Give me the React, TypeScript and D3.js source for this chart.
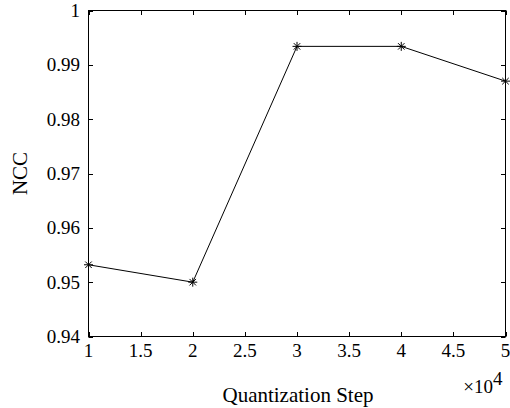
import React, { useEffect, useRef } from 'react'
import * as d3 from 'd3'

const steps = [1, 2, 3, 4, 5]
const ncc = [0.9532, 0.95, 0.9934, 0.9934, 0.9870]
const xTicks = [1, 1.5, 2, 2.5, 3, 3.5, 4, 4.5, 5]
const yTicks = [0.94, 0.95, 0.96, 0.97, 0.98, 0.99, 1]

const W = 510
const H = 408
const FONT = '"Liberation Serif", "Times New Roman", serif'

const drawChart = (node: SVGSVGElement) => {
  const left = 88.5
  const right = 505.5
  const top = 10.5
  const bottom = 336.5
  const tick = 4.5

  const x = d3.scaleLinear().domain([1, 5]).range([left, right])
  const y = d3.scaleLinear().domain([0.94, 1]).range([bottom, top])

  const svg = d3.select(node)
  svg.selectAll('*').remove()

  svg
    .append('rect')
    .attr('width', W)
    .attr('height', H)
    .attr('fill', '#fff')

  // ticks on all four sides, pointing in
  const ticks = svg.append('g').attr('stroke', '#000').attr('stroke-width', 1)
  xTicks.forEach((t) => {
    const px = Math.round(x(t)) + 0.5
    ticks.append('line').attr('x1', px).attr('x2', px).attr('y1', bottom).attr('y2', bottom - tick)
    ticks.append('line').attr('x1', px).attr('x2', px).attr('y1', top).attr('y2', top + tick)
  })
  yTicks.forEach((t) => {
    const py = Math.round(y(t)) + 0.5
    ticks.append('line').attr('x1', left).attr('x2', left + tick).attr('y1', py).attr('y2', py)
    ticks.append('line').attr('x1', right).attr('x2', right - tick).attr('y1', py).attr('y2', py)
  })

  // box
  svg
    .append('rect')
    .attr('x', left)
    .attr('y', top)
    .attr('width', right - left)
    .attr('height', bottom - top)
    .attr('fill', 'none')
    .attr('stroke', '#000')
    .attr('stroke-width', 1)

  const labels = svg
    .append('g')
    .attr('font-family', FONT)
    .attr('font-size', 19)
    .attr('fill', '#000')

  labels
    .selectAll('text.xt')
    .data(xTicks)
    .enter()
    .append('text')
    .attr('class', 'xt')
    .attr('x', (d) => x(d))
    .attr('y', 357)
    .attr('text-anchor', 'middle')
    .text((d) => String(d))

  labels
    .selectAll('text.yt')
    .data(yTicks)
    .enter()
    .append('text')
    .attr('class', 'yt')
    .attr('x', 80)
    .attr('y', (d) => y(d) + 6.5)
    .attr('text-anchor', 'end')
    .text((d) => (d === 1 ? '1' : d.toFixed(2)))

  labels
    .append('text')
    .attr('x', 298)
    .attr('y', 402)
    .attr('font-size', 21)
    .attr('text-anchor', 'middle')
    .text('Quantization Step')

  labels
    .append('text')
    .attr('transform', `translate(27, ${(top + bottom) / 2}) rotate(-90)`)
    .attr('font-size', 21)
    .attr('text-anchor', 'middle')
    .text('NCC')

  labels
    .append('text')
    .attr('x', 493)
    .attr('y', 393)
    .attr('text-anchor', 'end')
    .text('×10')

  labels
    .append('text')
    .attr('x', 493)
    .attr('y', 385)
    .text('4')

  const pts = steps.map((s, i) => [x(s), y(ncc[i])] as [number, number])

  svg
    .append('path')
    .attr('d', d3.line()(pts))
    .attr('fill', 'none')
    .attr('stroke', '#000')
    .attr('stroke-width', 1)

  // asterisk markers
  const r = 4.5
  const d = r * 0.72
  const markers = svg.append('g').attr('stroke', '#000').attr('stroke-width', 1)
  pts.forEach(([px, py]) => {
    const m = markers.append('g').attr('transform', `translate(${px}, ${py})`)
    m.append('line').attr('x1', -r).attr('x2', r).attr('y1', 0).attr('y2', 0)
    m.append('line').attr('x1', 0).attr('x2', 0).attr('y1', -r).attr('y2', r)
    m.append('line').attr('x1', -d).attr('x2', d).attr('y1', -d).attr('y2', d)
    m.append('line').attr('x1', -d).attr('x2', d).attr('y1', d).attr('y2', -d)
  })
}

const App = () => {
  const ref = useRef<SVGSVGElement>(null)

  useEffect(() => {
    if (ref.current) drawChart(ref.current)
  }, [])

  return (
    <svg
      ref={ref}
      width={W}
      height={H}
      style={{ position: 'absolute', left: 0, top: 0, display: 'block' }}
    />
  )
}

export default App
